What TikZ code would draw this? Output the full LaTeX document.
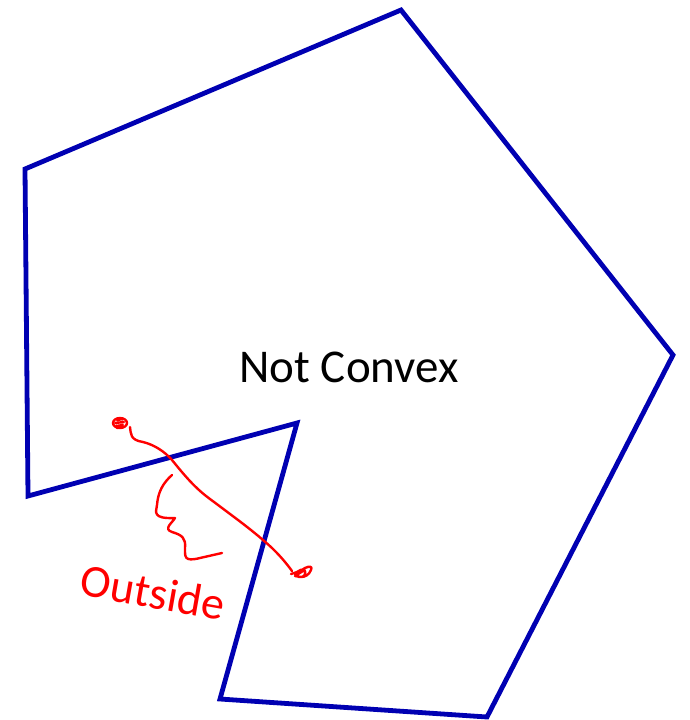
\documentclass[tikz,border=0pt]{standalone}
\usepackage{fontspec}
\setmainfont{Carlito}
\definecolor{polyblue}{RGB}{0,0,178}
\definecolor{inkred}{RGB}{255,0,0}
\begin{document}
\begin{tikzpicture}[x=1pt,y=-1pt,
  polyedge/.style={draw=polyblue,line width=4.8pt,line join=miter},
  ink/.style={draw=inkred,line width=2.4pt,line cap=round,line join=round},
  lbl/.style={inner sep=0pt,font=\fontsize{47}{52}\selectfont}]
\useasboundingbox (0,0) rectangle (689,720);
\coordinate (v1) at (401,10);
\coordinate (v2) at (673,355);
\coordinate (v3) at (487,717);
\coordinate (v4) at (220,699);
\coordinate (v5) at (297,423);
\coordinate (v6) at (28,496);
\coordinate (v7) at (25,169);
\draw[polyedge] (v1) -- (v2) -- (v3) -- (v4) -- (v5) -- (v6) -- (v7) -- cycle;
\node[lbl] (title) at (349,367) {Not Convex};
% red point A (scribble)
\coordinate (pa) at (120,423);
\coordinate (pb) at (302,575);
\draw[ink] (pa) ellipse [x radius=7, y radius=5];
\draw[ink] (pa) ++(-3,-3) -- ++(6,-1) ++(-8,4) -- ++(9,-1) ++(-8,4) -- ++(7,-1)
  ++(-6,3) -- ++(5,-1);
% red point B (scribble)
\draw[ink] (pb) ++(-11,-1) .. controls +(6,-2) and +(-4,3) .. ++(14,-6)
   .. controls +(4,-2) and +(2,-4) .. ++(6,2)
   .. controls +(-2,5) and +(4,0) .. ++(-10,7)
   .. controls +(-4,0) and +(2,2) .. ++(-6,-3)
   .. controls +(4,-4) and +(-2,-3) .. ++(10,-3)
   .. controls +(1,3) and +(3,0) .. ++(-4,6)
   -- ++(-6,-1) -- ++(8,-5);
% connecting stroke
\draw[ink] (130,427) .. controls (131,434) and (130,440) .. (143,442)
  .. controls (155,445) and (165,452) .. (172,460)
  .. controls (185,476) and (195,488) .. (210,499)
  .. controls (230,514) and (248,527) .. (263,540)
  .. controls (275,550) and (284,560) .. (292,571);
% brace-like squiggle
\draw[ink] (172,475) .. controls (163,483) and (158,492) .. (157,505)
  .. controls (156,512) and (152,519) .. (175,518)
  .. controls (172,523) and (163,529) .. (172,532)
  .. controls (182,535) and (186,538) .. (185,548)
  .. controls (185,557) and (184,562) .. (200,558)
  -- (222,553);
\node[lbl,text=inkred,rotate=-10,font=\fontsize{46}{52}\selectfont] (outside) at (153,592) {Outside};
\end{tikzpicture}
\end{document}
